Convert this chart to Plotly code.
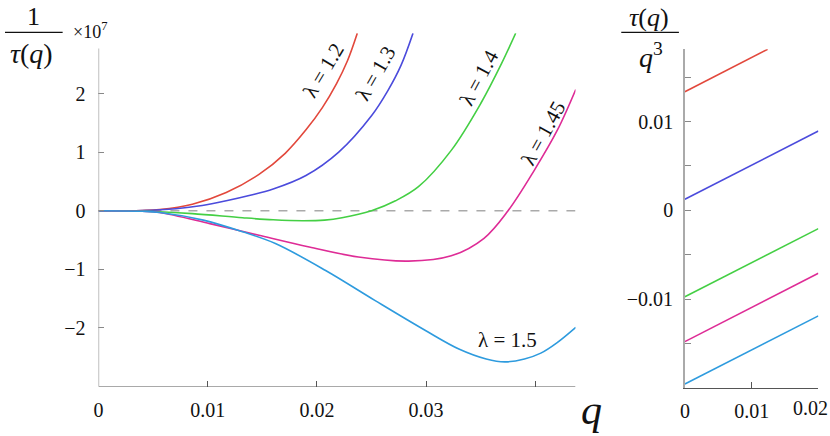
import plotly.graph_objects as go

W, H = 830, 436
SERIF = "Liberation Serif, DejaVu Serif, serif"

# ---- left panel: 1/tau(q), in units of 1e7 ----
q_12 = [0, 0.004, 0.0056, 0.0086, 0.0117, 0.0147, 0.0171, 0.0190, 0.0205, 0.0218, 0.0228, 0.0237]
v_12 = [0, 0.005, 0.02, 0.11, 0.31, 0.62, 0.98, 1.38, 1.76, 2.17, 2.56, 3.03]

q_13 = [0, 0.004, 0.0071, 0.0095, 0.0117, 0.0138, 0.0160, 0.0190, 0.0220, 0.0250, 0.0265, 0.0277, 0.0288]
v_13 = [0, 0.005, 0.035, 0.09, 0.17, 0.26, 0.37, 0.60, 1.00, 1.62, 2.05, 2.48, 3.03]

q_14 = [0, 0.004, 0.0086, 0.0132, 0.0160, 0.0187, 0.0207, 0.0223, 0.0250, 0.0272,
        0.0293, 0.0323, 0.0350, 0.0369, 0.0382]
v_14 = [0, -0.005, -0.05, -0.12, -0.155, -0.17, -0.16, -0.12, 0, 0.17,
        0.41, 1.03, 1.83, 2.51, 3.03]

q_145 = [0, 0.004, 0.0056, 0.0102, 0.0147, 0.0193, 0.0238, 0.0284, 0.0323, 0.0353,
         0.0375, 0.0399, 0.0420, 0.0437]
v_145 = [0, -0.01, -0.03, -0.22, -0.42, -0.62, -0.79, -0.86, -0.77, -0.47,
         0, 0.69, 1.37, 2.07]

q_15 = [0, 0.004, 0.0056, 0.0096, 0.0132, 0.0162, 0.0208, 0.0253, 0.0299, 0.0330,
        0.0355, 0.0372, 0.0390, 0.0405, 0.0420, 0.0437]
v_15 = [0, -0.01, -0.03, -0.16, -0.36, -0.56, -1.02, -1.53, -2.04, -2.36,
        -2.53, -2.58, -2.53, -2.43, -2.25, -1.99]

# ---- right panel: tau(q)/q^3 ----
qr = [0, 0.01, 0.02]
qr_12 = [0, 0.006, 0.0124]
r_12 = [0.01337, 0.01567, 0.01815]
r_13 = [0.00124, 0.00510, 0.00894]
r_14 = [-0.00974, -0.00590, -0.00207]
r_145 = [-0.01481, -0.01096, -0.0071]
r_15 = [-0.01958, -0.01574, -0.0119]

colors = ["#E2483C", "#4B4BDC", "#44CF44", "#DE2C96", "#2E9BDE"]
labels = ["λ = 1.2", "λ = 1.3", "λ = 1.4", "λ = 1.45", "λ = 1.5"]

left = [(q_12, v_12), (q_13, v_13), (q_14, v_14), (q_145, v_145), (q_15, v_15)]
right = [(qr_12, r_12), (qr, r_13), (qr, r_14), (qr, r_145), (qr, r_15)]

fig = go.Figure()

for (qq, vv), c in zip(left, colors):
    fig.add_trace(go.Scatter(x=qq, y=vv, mode="lines", xaxis="x", yaxis="y",
                             line=dict(color=c, width=1.6, shape="spline", smoothing=1.0),
                             showlegend=False, hoverinfo="skip"))

for (qq, vv), c in zip(right, colors):
    fig.add_trace(go.Scatter(x=qq, y=vv, mode="lines", xaxis="x2", yaxis="y2",
                             line=dict(color=c, width=1.6),
                             showlegend=False, hoverinfo="skip"))


def px(x):
    return x / W


def py(y):
    return 1 - y / H


tick_font = dict(family=SERIF, size=20, color="#111")
x_max = 0.04368

fig.update_layout(
    width=W, height=H,
    margin=dict(l=0, r=0, t=0, b=0),
    paper_bgcolor="white", plot_bgcolor="white",
    xaxis=dict(domain=[px(94), px(574)], range=[0, x_max], showgrid=False, zeroline=False,
               showline=False, ticks="inside", ticklen=6, tickcolor="#555", tickwidth=1,
               tickvals=[0, 0.01, 0.02, 0.03], ticktext=["0", "0.01", "0.02", "0.03"],
               minor=dict(tickvals=[0.04], ticks="inside", ticklen=6, tickcolor="#555"),
               tickfont=tick_font, ticklabelstandoff=9),
    yaxis=dict(domain=[py(386.5), py(33.2)], range=[-3.0, 3.03], showgrid=False, zeroline=False,
               showline=False, ticks="inside", ticklen=6, tickcolor="#888", tickwidth=1,
               tickvals=[-2, -1, 0, 1, 2], ticktext=["−2", "−1", "0", "1", "2"],
               tickfont=tick_font, ticklabelstandoff=12),
    xaxis2=dict(domain=[px(684), px(818.3)], range=[0, 0.02], anchor="y2", showgrid=False,
                zeroline=False, showline=True, linecolor="#555", linewidth=1.2,
                ticks="inside", ticklen=6, tickcolor="#555",
                tickvals=[0, 0.01], ticktext=["0", "0.01"],
                minor=dict(tickvals=[0.02], ticks="inside", ticklen=6, tickcolor="#555"),
                tickfont=tick_font, ticklabelstandoff=5),
    yaxis2=dict(domain=[py(387.7), py(49.3)], range=[-0.0200, 0.01815], anchor="x2",
                showgrid=False, zeroline=False, showline=True, linecolor="#aaa", linewidth=1.5,
                ticks="inside", ticklen=6, tickcolor="#888",
                tickvals=[-0.01, 0, 0.01], ticktext=["−0.01", "0", "0.01"],
                minor=dict(tickvals=[-0.015, -0.005, 0.005, 0.015], ticks="inside",
                           ticklen=6, tickcolor="#888"),
                tickfont=tick_font, ticklabelstandoff=6),
)

# axis lines of the left panel (y axis stops short of the top)
fig.add_shape(type="line", xref="x", yref="y", x0=0, x1=0, y0=-3.0, y1=2.77,
              line=dict(color="#aaa", width=1.5))
fig.add_shape(type="line", xref="x", yref="y", x0=0, x1=x_max, y0=-3.0, y1=-3.0,
              line=dict(color="#555", width=1.2))
# dashed zero line
fig.add_shape(type="line", xref="x", yref="y", x0=0, x1=x_max, y0=0, y1=0,
              line=dict(color="#aaa", width=1.5, dash="dash"), layer="below")

# curve labels
label_pos = [(0.02063, 2.40, -59), (0.02539, 2.35, -60), (0.03485, 2.26, -62),
             (0.04076, 1.32, -61), (0.03746, -2.21, 0)]
for txt, (lx, ly, ang) in zip(labels, label_pos):
    fig.add_annotation(x=lx, y=ly, xref="x", yref="y", text=txt, showarrow=False,
                       textangle=ang, xanchor="center", yanchor="middle",
                       font=dict(family=SERIF, size=21, color="#111"))


def paper_text(x, y, text, size, anchor="center", vanchor="middle"):
    fig.add_annotation(x=px(x), y=py(y), xref="paper", yref="paper", text=text,
                       showarrow=False, xanchor=anchor, yanchor=vanchor,
                       font=dict(family=SERIF, size=size, color="#111"))


def frac_bar(x0, x1, y):
    fig.add_shape(type="line", xref="paper", yref="paper", x0=px(x0), x1=px(x1),
                  y0=py(y), y1=py(y), line=dict(color="#111", width=1.3))


# last tick label of the right panel sits on the page edge
paper_text(830, 408, "0.02", 20, anchor="right")

# axis titles
paper_text(590, 410, "<i>q</i>", 42)

paper_text(29, 33, "1", 26, vanchor="bottom")
frac_bar(0, 58, 32.3)
paper_text(27, 36, "<i>τ</i>(<i>q</i>)", 28, vanchor="top")
paper_text(66, 31, "×10<sup>7</sup>", 18, anchor="left")

paper_text(648, 1, "<i>τ</i>(<i>q</i>)", 26, vanchor="top")
frac_bar(620, 678, 32.3)
paper_text(650, 36, "<i>q</i><sup>3</sup>", 28, vanchor="top")

fig.write_html("out.html", config={"displayModeBar": False},
               post_script="document.body.style.margin = '0';")
